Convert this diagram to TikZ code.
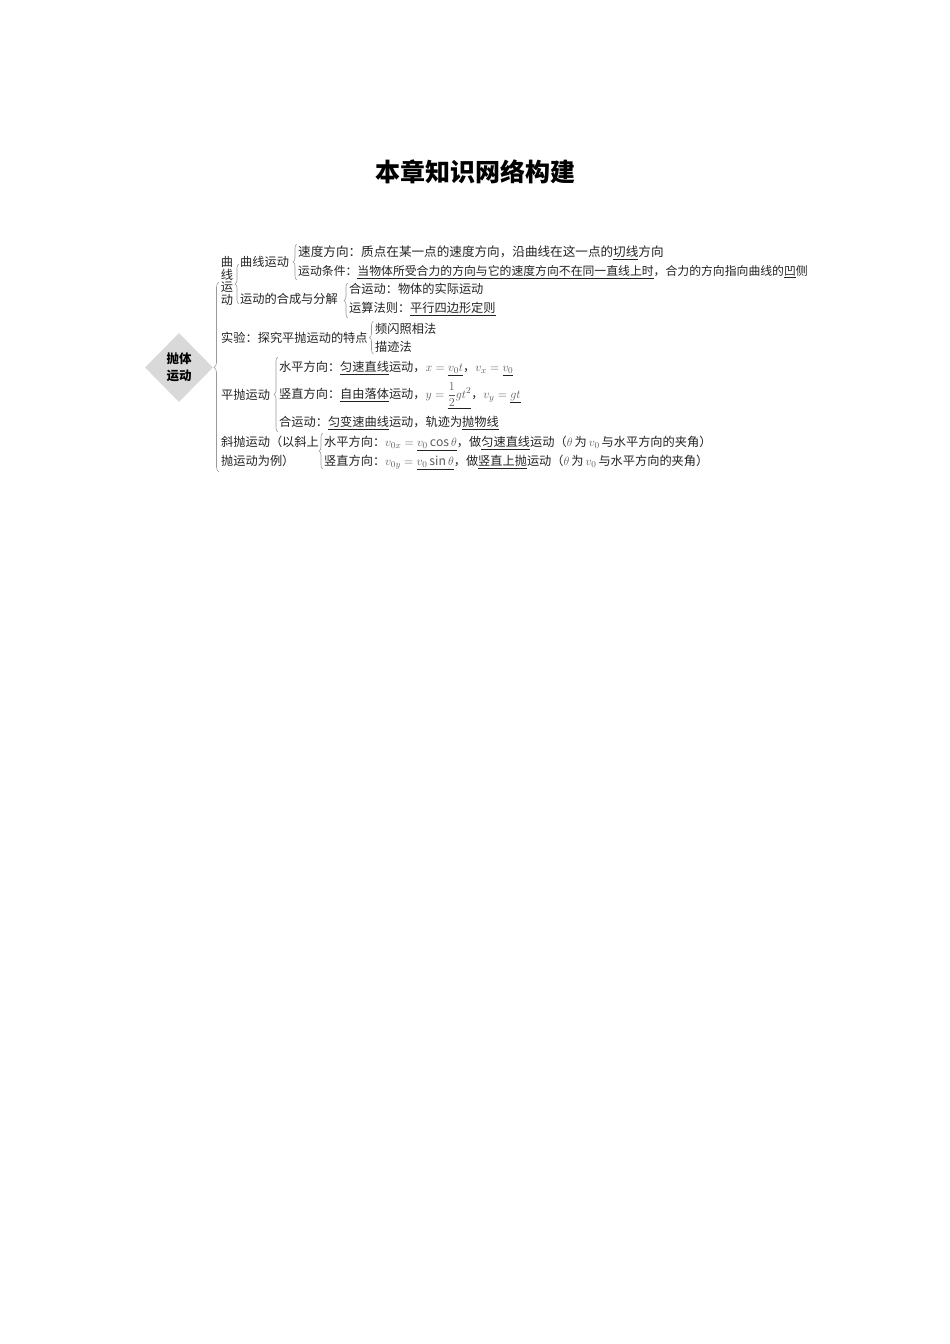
\documentclass[tikz,border=0pt]{standalone}
\usepackage{fontspec}
\setmainfont{Noto Sans CJK SC}
\usetikzlibrary{shapes.geometric,decorations.pathreplacing}
\definecolor{txt}{HTML}{222222}
\definecolor{mg}{HTML}{5A5A5A}
\definecolor{bracec}{HTML}{9A9A9A}
\definecolor{dia}{HTML}{D9D9D9}
\newcommand{\mth}[1]{\textcolor{mg}{$#1$}}
\newcommand{\uln}[1]{\underline{#1}}
\begin{document}
\begin{tikzpicture}[x=1pt,y=-1pt,
  row/.style={anchor=base west,inner sep=0pt,text=txt,font=\fontsize{12.2}{14}\selectfont},
  brc/.style={draw=bracec,line width=0.6pt,decorate,decoration={brace,amplitude=4pt}},
  rootbox/.style={diamond,aspect=1,fill=dia,minimum width=68pt,minimum height=69pt,inner sep=0pt,align=center,text=black,font=\fontsize{12.5}{17}\selectfont\bfseries},
]
\useasboundingbox (0,0) rectangle (950,1344);

% title
\node[text=black,inner sep=0pt,font=\fontsize{25}{30}\selectfont\bfseries] (title) at (475,172) {本章知识网络构建};

% root
\node[rootbox] (root) at (179,367.5) {抛体\\运动};

% first level labels
\node[row,anchor=center,align=center,font=\fontsize{12.2}{12.6}\selectfont] (qx) at (227,281) {曲\\线\\运\\动};
\node[row] (sy) at (221,342.5) {实验：探究平抛运动的特点};
\node[row] (pp) at (221,399.5) {平抛运动};
\node[row] (xp1) at (221,446.5) {斜抛运动（以斜上};
\node[row] (xp2) at (221,465.5) {抛运动为例）};

% second level (curve motion)
\node[row] (qxyd) at (240,266.5) {曲线运动};
\node[row] (hc) at (240,303.5) {运动的合成与分解};

% leaves
\node[row,font=\fontsize{12.6}{14}\selectfont] (r1) at (298,256.5) {速度方向：质点在某一点的速度方向，沿曲线在这一点的\uln{切线}方向};
\node[row,font=\fontsize{11.85}{14}\selectfont] (r2) at (298,275.5) {运动条件：\uln{当物体所受合力的方向与它的速度方向不在同一直线上时}，合力的方向指向曲线的\uln{凹}侧};
\node[row] (r3) at (349,293.5) {合运动：物体的实际运动};
\node[row] (r4) at (349,312.5) {运算法则：\uln{平行四边形定则}};
\node[row] (r5) at (375,333) {频闪照相法};
\node[row] (r6) at (375,351.5) {描迹法};
\node[row] (r7) at (279,371.5) {水平方向：\uln{匀速直线}运动，\mth{x={}}\uln{\mth{v_0t}}，\mth{v_x={}}\uln{\mth{v_0}}};
\node[row] (r8) at (279,398.5) {竖直方向：\uln{自由落体}运动，\mth{y={}}\uln{\mth{\displaystyle\frac{1}{2}gt^2}}，\mth{v_y={}}\uln{\mth{gt}}};
\node[row] (r9) at (279,426.5) {合运动：\uln{匀变速曲线}运动，轨迹为\uln{抛物线}};
\node[row] (r10) at (324,446.5) {水平方向：\mth{v_{0x}={}}\uln{\mth{v_0\cos\theta}}，做\uln{匀速直线}运动（\mth{\theta}\,为\,\mth{v_0}\,与水平方向的夹角）};
\node[row] (r11) at (324,465.5) {竖直方向：\mth{v_{0y}={}}\uln{\mth{v_0\sin\theta}}，做\uln{竖直上抛}运动（\mth{\theta}\,为\,\mth{v_0}\,与水平方向的夹角）};

% brace end points
\coordinate (mb) at (219,472);   \coordinate (mt) at (219,282);
\coordinate (qb) at (239,304);   \coordinate (qt) at (239,264);
\coordinate (ab) at (297,280);   \coordinate (at) at (297,244);
\coordinate (hb) at (348,318);   \coordinate (ht) at (348,283);
\coordinate (sb) at (373.5,354); \coordinate (st) at (373.5,321);
\coordinate (pb) at (278,432);   \coordinate (pt) at (278,357);
\coordinate (xb) at (323,469);   \coordinate (xt) at (323,433);

\draw[brc,decoration={amplitude=5pt,aspect=0.55}] (mb) -- (mt);
\draw[brc] (qb) -- (qt);
\draw[brc] (ab) -- (at);
\draw[brc] (hb) -- (ht);
\draw[brc] (sb) -- (st);
\draw[brc] (pb) -- (pt);
\draw[brc] (xb) -- (xt);
\end{tikzpicture}
\end{document}
